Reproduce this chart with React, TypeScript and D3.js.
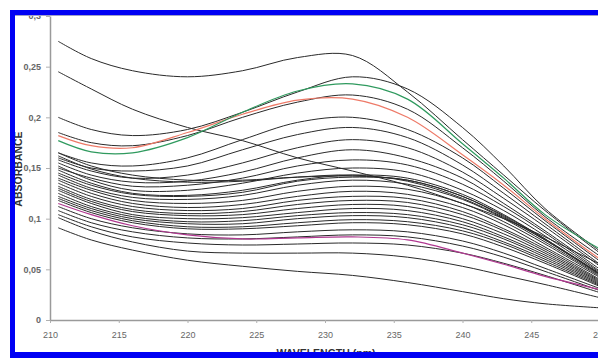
import { useEffect, useRef } from 'react'
import * as d3 from 'd3'

// wavelengths (nm) where each spectrum was read
const WAVELENGTHS = [210.6, 213, 216, 220, 224, 228, 232, 236, 240, 243, 246, 250]

const Y_TICKS = [0, 0.05, 0.1, 0.15, 0.2, 0.25, 0.3]
const X_TICKS = [210, 215, 220, 225, 230, 235, 240, 245, 250]

const GREEN = [0.177, 0.166, 0.165, 0.18, 0.205, 0.226, 0.233, 0.218, 0.174, 0.14, 0.104, 0.07]
const RED = [0.182, 0.172, 0.17, 0.185, 0.203, 0.217, 0.218, 0.2, 0.163, 0.133, 0.1, 0.06]
const MAGENTA = [0.115, 0.104, 0.093, 0.084, 0.08, 0.081, 0.082, 0.079, 0.066, 0.055, 0.043, 0.03]

const BLACK = [
  [0.275, 0.258, 0.246, 0.24, 0.246, 0.259, 0.261, 0.225, 0.178, 0.143, 0.108, 0.066],
  [0.245, 0.228, 0.208, 0.19, 0.177, 0.16, 0.147, 0.133, 0.115, 0.1, 0.082, 0.055],
  [0.2, 0.188, 0.182, 0.188, 0.205, 0.225, 0.24, 0.228, 0.19, 0.152, 0.11, 0.068],
  [0.185, 0.175, 0.172, 0.182, 0.2, 0.215, 0.222, 0.208, 0.17, 0.137, 0.102, 0.063],
  [0.165, 0.155, 0.152, 0.16, 0.178, 0.195, 0.2, 0.188, 0.16, 0.13, 0.098, 0.058],
  [0.16, 0.15, 0.147, 0.152, 0.168, 0.183, 0.19, 0.18, 0.153, 0.125, 0.095, 0.055],
  [0.158, 0.147, 0.14, 0.143, 0.155, 0.17, 0.178, 0.17, 0.146, 0.12, 0.092, 0.053],
  [0.155, 0.143, 0.136, 0.137, 0.146, 0.16, 0.168, 0.16, 0.14, 0.115, 0.088, 0.05],
  [0.165, 0.152, 0.143, 0.138, 0.138, 0.141, 0.142, 0.138, 0.122, 0.103, 0.08, 0.046],
  [0.162, 0.149, 0.14, 0.136, 0.137, 0.141, 0.143, 0.137, 0.12, 0.101, 0.079, 0.045],
  [0.15, 0.14, 0.132, 0.133, 0.14, 0.152, 0.158, 0.153, 0.134, 0.112, 0.086, 0.048],
  [0.152, 0.138, 0.128, 0.128, 0.135, 0.145, 0.15, 0.146, 0.128, 0.108, 0.083, 0.047],
  [0.148, 0.135, 0.125, 0.123, 0.128, 0.138, 0.143, 0.14, 0.124, 0.104, 0.08, 0.045],
  [0.145, 0.133, 0.124, 0.122, 0.126, 0.137, 0.141, 0.138, 0.122, 0.102, 0.079, 0.045],
  [0.143, 0.13, 0.121, 0.119, 0.123, 0.133, 0.138, 0.134, 0.119, 0.1, 0.077, 0.044],
  [0.14, 0.128, 0.118, 0.115, 0.118, 0.127, 0.132, 0.129, 0.115, 0.097, 0.075, 0.043],
  [0.138, 0.125, 0.115, 0.111, 0.114, 0.122, 0.127, 0.124, 0.111, 0.094, 0.072, 0.042],
  [0.135, 0.122, 0.112, 0.108, 0.11, 0.118, 0.122, 0.12, 0.107, 0.09, 0.07, 0.04],
  [0.132, 0.119, 0.109, 0.105, 0.107, 0.114, 0.118, 0.116, 0.104, 0.088, 0.068, 0.039],
  [0.13, 0.117, 0.107, 0.103, 0.104, 0.11, 0.114, 0.112, 0.1, 0.085, 0.066, 0.038],
  [0.128, 0.115, 0.104, 0.1, 0.101, 0.106, 0.11, 0.108, 0.097, 0.082, 0.064, 0.037],
  [0.125, 0.112, 0.102, 0.097, 0.098, 0.103, 0.106, 0.104, 0.094, 0.08, 0.062, 0.036],
  [0.122, 0.11, 0.1, 0.095, 0.095, 0.1, 0.103, 0.101, 0.091, 0.077, 0.06, 0.035],
  [0.12, 0.108, 0.098, 0.092, 0.092, 0.096, 0.099, 0.097, 0.088, 0.075, 0.058, 0.034],
  [0.118, 0.106, 0.096, 0.09, 0.09, 0.093, 0.096, 0.094, 0.085, 0.072, 0.056, 0.033],
  [0.112, 0.1, 0.091, 0.085, 0.084, 0.087, 0.089, 0.087, 0.078, 0.066, 0.051, 0.031],
  [0.108, 0.096, 0.087, 0.081, 0.08, 0.082, 0.084, 0.082, 0.073, 0.062, 0.048, 0.029],
  [0.104, 0.092, 0.082, 0.076, 0.074, 0.075, 0.076, 0.074, 0.066, 0.056, 0.044, 0.027],
  [0.101, 0.088, 0.077, 0.068, 0.066, 0.066, 0.066, 0.062, 0.053, 0.044, 0.035, 0.022],
  [0.091, 0.079, 0.069, 0.059, 0.053, 0.048, 0.044, 0.037, 0.028, 0.021, 0.016, 0.012],
]

const W = 598
const H = 358

export default function App() {
  const svgRef = useRef<SVGSVGElement>(null)

  useEffect(() => {
    const svg = d3.select(svgRef.current)
    svg.selectAll('*').remove()
    svg.append('rect').attr('width', W).attr('height', H).attr('fill', '#fff')

    const x = d3.scaleLinear().domain([210, 250]).range([50, 600])
    const y = d3.scaleLinear().domain([0, 0.3]).range([320, 16])
    const g = svg.append('g')

    const line = d3.line<number>()
      .x((_, i) => x(WAVELENGTHS[i]))
      .y((v) => y(v))
      .curve(d3.curveCatmullRom.alpha(0.5))

    BLACK.forEach((s) => {
      g.append('path').datum(s).attr('d', line).attr('fill', 'none').attr('stroke', '#2a2a2a').attr('stroke-width', 1)
    })
    g.append('path').datum(MAGENTA).attr('d', line).attr('fill', 'none').attr('stroke', '#b03890').attr('stroke-width', 1.2)
    g.append('path').datum(RED).attr('d', line).attr('fill', 'none').attr('stroke', '#ee7a68').attr('stroke-width', 1.2)
    g.append('path').datum(GREEN).attr('d', line).attr('fill', 'none').attr('stroke', '#2f9a5e').attr('stroke-width', 1.2)

    // axes
    const ax = g.append('g').attr('transform', `translate(0,${y(0)})`)
      .call(d3.axisBottom(x).tickValues(X_TICKS).tickSize(3).tickSizeOuter(0).tickFormat((d) => String(d)))
    ax.select('.domain').attr('stroke', '#9a9a9a').attr('stroke-width', 1.5)
    ax.selectAll('.tick line').attr('stroke', '#b0b0b0')
    ax.selectAll('.tick text').attr('fill', '#666').attr('font-size', '9px').attr('font-family', 'Arial, "Liberation Sans", sans-serif').attr('dy', '1.35em')

    const ay = g.append('g').attr('transform', `translate(${x(210)},0)`)
      .call(d3.axisLeft(y).tickValues(Y_TICKS).tickSize(4).tickSizeOuter(0).tickFormat((d) => String(+d).replace('.', ',')))
    ay.select('.domain').attr('stroke', '#9a9a9a').attr('stroke-width', 1.5)
    ay.selectAll('.tick line').attr('stroke', '#b0b0b0')
    ay.selectAll('.tick text').attr('fill', '#666').attr('font-size', '9px').attr('font-weight', 'bold').attr('font-family', 'Arial, "Liberation Sans", sans-serif').attr('dx', '-2px')

    svg.append('text').attr('transform', 'translate(22,169) rotate(-90)').attr('text-anchor', 'middle')
      .attr('font-family', 'Arial, "Liberation Sans", sans-serif').attr('font-weight', 'bold').attr('font-size', '10.5px').attr('fill', '#333')
      .text('ABSORBANCE')
    svg.append('text').attr('x', 326).attr('y', 357).attr('text-anchor', 'middle')
      .attr('font-family', 'Arial, "Liberation Sans", sans-serif').attr('font-weight', 'bold').attr('font-size', '10.5px').attr('fill', '#333')
      .text('WAVELENGTH (nm)')

    // blue frame
    svg.append('line').attr('x1', 15).attr('x2', W).attr('y1', 15.5).attr('y2', 15.5).attr('stroke', '#a0a0c8').attr('stroke-width', 1)
    svg.append('rect').attr('x', 10).attr('y', 10).attr('width', W).attr('height', 5).attr('fill', '#0000f4')
    svg.append('rect').attr('x', 10).attr('y', 10).attr('width', 5).attr('height', H - 10).attr('fill', '#0000f4')
    svg.append('rect').attr('x', 10).attr('y', 352).attr('width', W).attr('height', 6).attr('fill', '#0000f4')
  }, [])

  return (
    <div style={{ position: 'fixed', left: 0, top: 0 }}>
      <svg ref={svgRef} width={W} height={H} style={{ display: 'block' }} />
    </div>
  )
}
